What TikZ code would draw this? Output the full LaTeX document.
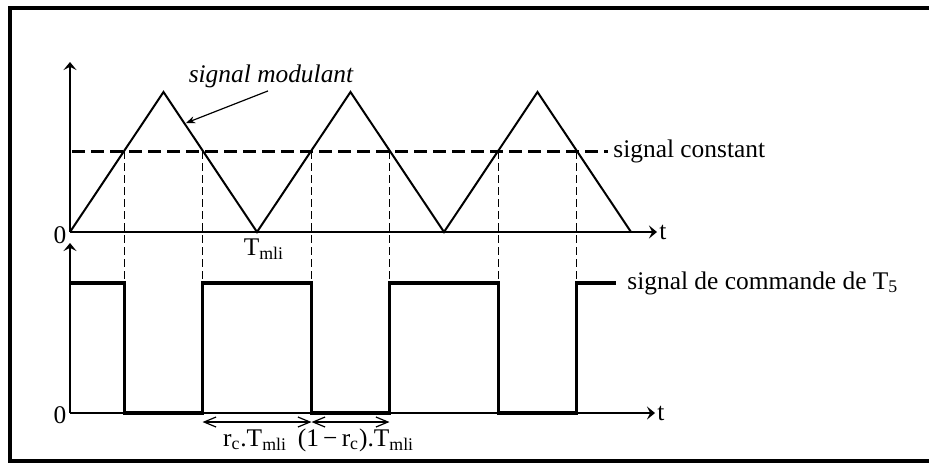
\documentclass[tikz,border=0pt]{standalone}
\usepackage{fontspec}
\setmainfont{Liberation Serif}
\usetikzlibrary{arrows.meta, calc}

\begin{document}
\begin{tikzpicture}[
      x=0.5pt, y=-0.5pt,
      >=Stealth,
      axis/.style={->, line width=0.6pt, >={Stealth[length=4pt, width=6.5pt, inset=1.6pt]}},
      tri/.style={line width=1pt},
      cst/.style={line width=1.5pt, dash pattern=on 6.5pt off 3pt},
      guide/.style={line width=0.9pt, dash pattern=on 4pt off 2pt},
      cmd/.style={line width=1.6pt},
      dim/.style={<->, line width=0.6pt, >={Straight Barb[length=6pt, width=5pt]}},
      pointer/.style={->, line width=0.6pt, >={Stealth[length=4.5pt, width=3.5pt]}},
      lab/.style={font=\fontsize{12.7}{15}\selectfont, inner sep=1pt}
    ]
    \useasboundingbox (0,0) rectangle (929,463);
    \draw[line width=2pt] (940,8) -- (10,8) -- (10,461) -- (940,461);

    % upper axes
    \coordinate (o1) at (70,232);
    \coordinate (y1) at (70,62);
    \coordinate (t1) at (657,232);
    \draw[axis] (o1) -- (y1);
    \draw[axis] (o1) -- (t1);
    \node[lab] (z1) at (60,235) {0};
    \node[lab, anchor=west] (tt1) at (t1) {t};

    % lower axes
    \coordinate (o2) at (70,413);
    \coordinate (y2) at (70,243);
    \coordinate (t2) at (655,413);
    \draw[axis] (o2) -- (y2);
    \draw[axis] (o2) -- (t2);
    \node[lab] (z2) at (60,415) {0};
    \node[lab, anchor=west] (tt2) at (t2) {t};

    % signal modulant
    \draw[tri] (70,232) -- (163.5,92) -- (257,232) -- (350.5,92) -- (444,232)
      -- (537.5,92) -- (631,232);
    \node[lab, anchor=north] (tmli) at (264,236) {T\textsubscript{mli}};
    \node[lab] (modl) at (271,76) {\itshape signal modulant};
    \coordinate (tip) at (186,123);
    \draw[pointer] ($(modl.south)+(-3,1)$) -- (tip);

    % signal constant
    \coordinate (c0) at (72,151);
    \coordinate (c1) at (608,151);
    \draw[cst] (c0) -- (c1);
    \node[lab, anchor=west] (cstl) at (611,151) {signal constant};

    % crossings
    \coordinate (a1) at (124.5,151);
    \coordinate (a2) at (202.5,151);
    \coordinate (a3) at (311.5,151);
    \coordinate (a4) at (389.5,151);
    \coordinate (a5) at (498.5,151);
    \coordinate (a6) at (576.5,151);
    \draw[guide] (a1) -- (124.5,283);
    \draw[guide] (a2) -- (202.5,283);
    \draw[guide] (a3) -- (311.5,283);
    \draw[guide] (a4) -- (389.5,283);
    \draw[guide] (a5) -- (498.5,283);
    \draw[guide] (a6) -- (576.5,283);

    % signal de commande
    \draw[cmd] (70,283) -- (124.5,283) -- (124.5,413) -- (202.5,413) -- (202.5,283)
      -- (311.5,283) -- (311.5,413) -- (389.5,413) -- (389.5,283) -- (498.5,283)
      -- (498.5,413) -- (576.5,413) -- (576.5,283) -- (616,283);
    \node[lab, anchor=west] (cmdl) at (625,283) {signal de commande de T\textsubscript{5}};

    % rapports cycliques
    \coordinate (d1) at (202.5,422);
    \coordinate (d2) at (311.5,422);
    \coordinate (d3) at (389.5,422);
    \draw[dim] (d1) -- (d2);
    \draw[dim] (d2) -- (d3);
    \node[lab] (rc) at (255,440) {r\textsubscript{c}.T\textsubscript{mli}};
    \node[lab] (rc2) at (356,440) {(1\,−\,r\textsubscript{c}).T\textsubscript{mli}};
  \end{tikzpicture}
\end{document}
